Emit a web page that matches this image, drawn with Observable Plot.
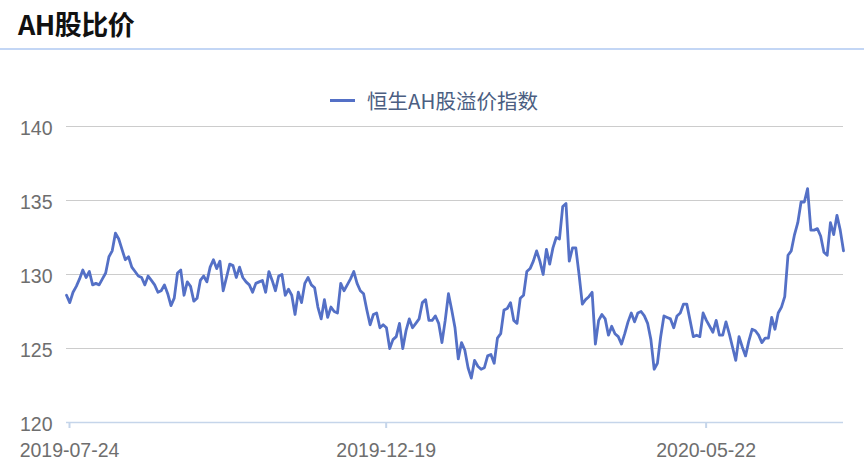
<!DOCTYPE html>
<html>
<head>
<meta charset="utf-8">
<script src="https://cdn.jsdelivr.net/npm/d3@7"></script>
<script src="https://cdn.jsdelivr.net/npm/@observablehq/plot@0.6"></script>
<style>
  html, body { margin: 0; padding: 0; background: #fff; }
  #wrap { width: 864px; position: relative; }
  #title { height: 48px; line-height: 48px; padding-left: 18px; border-bottom: 2px solid #c3d6f5;
           font-family: "Noto Sans CJK SC", "Liberation Sans", sans-serif; font-weight: bold; font-size: 27px; color: #111; overflow: hidden; letter-spacing: -0.5px; }
  #legend { height: 64px; position: relative; }
  #legend .item { position: absolute; left: 330px; top: 36px; height: 28px; line-height: 28px; display: flex; align-items: center;
                  font-family: "Noto Sans CJK SC", sans-serif; font-size: 20.5px; color: #4b5e82; }
  #legend .sw { width: 25px; height: 3px; background: #5470c6; margin-right: 12px; }
  #chart svg { display: block; }
</style>
</head>
<body>
<div id="wrap">
  <div id="title">AH股比价</div>
  <div id="legend"></div>
  <div id="chart"></div>
</div>
<script>
const seriesName = "恒生AH股溢价指数";
const values = [
  128.6,128.1,128.8,129.2,129.7,130.3,129.8,130.2,129.3,129.4,
  129.3,129.7,130.1,131.2,131.6,132.8,132.4,131.7,131.0,131.2,
  130.5,130.2,129.9,129.8,129.3,129.9,129.6,129.3,128.8,128.9,
  129.3,128.7,127.9,128.4,130.1,130.3,128.6,129.5,129.2,128.2,
  128.4,129.6,129.9,129.5,130.5,131.0,130.4,130.9,128.9,129.8,
  130.7,130.6,129.8,130.5,129.8,129.5,129.3,128.8,129.4,129.5,
  129.6,128.8,130.2,
  129.6,128.9,129.9,130.0,128.6,129.0,128.6,127.3,128.8,128.1,
  129.4,129.8,129.3,129.1,127.8,127.0,128.3,127.1,127.8,127.5,
  127.4,129.4,128.9,129.3,129.7,130.2,129.4,128.9,128.7,127.6,
  126.6,127.3,127.4,126.4,126.6,126.4,125.0,125.6,125.8,126.7,
  125.0,126.2,127.0,126.4,126.7,127.0,128.1,128.3,126.9,126.9,
  127.2,126.7,125.4,
  126.9,128.7,127.6,126.4,124.3,125.4,124.9,123.7,123.0,124.2,
  123.8,123.6,123.7,124.5,124.6,124.0,125.7,126.0,127.6,127.7,
  128.1,126.9,126.7,128.4,128.6,130.2,130.4,130.9,131.6,130.9,
  130.0,131.7,130.7,131.8,132.5,132.4,134.6,134.8,130.9,131.8,
  131.8,130.0,128.0,128.3,128.5,128.8,125.3,126.9,127.3,127.0,
  125.9,126.5,126.0,125.8,125.3,126.0,126.8,127.4,126.8,127.4,
  127.5,127.2,126.7,125.6,123.6,124.0,125.8,127.2,127.1,127.0,
  126.4,127.2,127.4,128.0,128.0,126.9,125.8,125.9,125.8,127.4,
  126.9,126.5,126.1,126.9,125.9,125.9,126.8,126.0,125.1,124.2,
  125.8,125.1,124.5,125.5,126.3,126.2,125.9,125.4,125.7,125.7,
  127.1,126.3,127.4,127.8,128.5,131.3,131.6,132.7,133.5,134.9,
  134.9,135.8,133.0,133.0,133.1,132.6,131.5,131.3,133.5,132.7,
  134.0,133.0,131.6
];
const xTickIndex = [0, 97, 195];
const xTickLabels = ["2019-07-24", "2019-12-19", "2020-05-22"];
const yTicks = [120, 125, 130, 135, 140];
const yGrid = [125, 130, 135, 140];

const data = values.map((v, i) => ({i, v}));
const labelOf = new Map(xTickIndex.map((t, k) => [t, xTickLabels[k]]));

// legend
const legend = document.getElementById("legend");
legend.innerHTML = `<div class="item"><div class="sw"></div><span>${seriesName}</span></div>`;

const chart = Plot.plot({
  width: 864,
  height: 354,
  marginTop: 12,
  marginBottom: 46,
  marginLeft: 66,
  marginRight: 21,
  style: {fontFamily: "'Liberation Sans', Arial, sans-serif", background: "#fff"},
  x: {domain: [0, values.length - 1], axis: null},
  y: {domain: [120, 140], axis: null},
  marks: [
    Plot.ruleY(yGrid, {stroke: "#cccccc", strokeWidth: 1}),
    Plot.ruleY([120], {stroke: "#c5d5ea", strokeWidth: 1.5}),
    Plot.axisY({ticks: yTicks, label: null, tickSize: 0, tickPadding: 14, fontSize: 19.5, fill: "#6e6e6e", dy: 2}),
    Plot.axisX({ticks: xTickIndex, label: null, tickFormat: d => labelOf.get(d), tickSize: 6, tickPadding: 15,
                fontSize: 19.5, stroke: "#c5d5ea", strokeWidth: 2, fill: "#6e6e6e", dx: 3}),
    Plot.line(data, {x: "i", y: "v", stroke: "#5470c6", strokeWidth: 2.8, strokeLinejoin: "round"})
  ]
});
document.getElementById("chart").appendChild(chart);
</script>
</body>
</html>
